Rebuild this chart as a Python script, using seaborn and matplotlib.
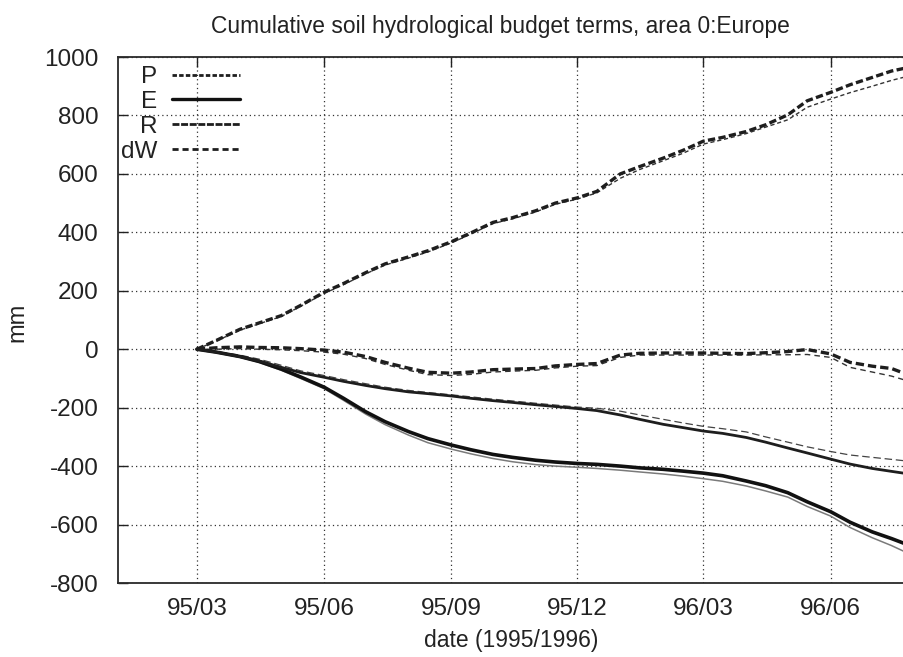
import numpy as np
import pandas as pd
import matplotlib
matplotlib.use("Agg")
import matplotlib.pyplot as plt
import matplotlib.dates as mdates
from matplotlib.lines import Line2D
import seaborn as sns

# ---------------- data ----------------
dates = ["1995-03-01", "1995-03-15", "1995-04-01", "1995-04-15", "1995-05-01", "1995-05-15",
         "1995-06-01", "1995-06-15", "1995-07-01", "1995-07-15", "1995-08-01", "1995-08-15",
         "1995-09-01", "1995-09-15", "1995-10-01", "1995-10-15", "1995-11-01", "1995-11-15",
         "1995-12-01", "1995-12-15", "1996-01-01", "1996-01-15", "1996-02-01", "1996-02-15",
         "1996-03-01", "1996-03-15", "1996-04-01", "1996-04-15", "1996-05-01", "1996-05-15",
         "1996-06-01", "1996-06-15", "1996-07-01", "1996-07-15", "1996-07-25"]

P_main = [0, 30, 68, 90, 115, 150, 195, 225, 262, 292, 316, 337, 368, 398, 434, 450, 474, 500,
          518, 540, 600, 625, 654, 680, 712, 725, 745, 768, 802, 850, 879, 905, 930, 952, 962]
P_alt = [0, 28, 65, 87, 112, 147, 191, 221, 258, 288, 312, 333, 364, 394, 430, 446, 470, 496,
         514, 535, 585, 615, 645, 670, 702, 717, 738, 760, 785, 828, 856, 878, 900, 920, 932]
E_main = [0, -10, -25, -42, -68, -95, -130, -168, -214, -248, -282, -306, -328, -344, -360, -370,
          -380, -386, -391, -394, -400, -406, -411, -417, -424, -433, -451, -467, -491, -522,
          -556, -592, -625, -648, -666]
E_alt = [0, -11, -27, -45, -72, -100, -135, -175, -222, -258, -294, -320, -342, -358, -374, -385,
         -395, -400, -404, -408, -414, -420, -427, -434, -443, -452, -468, -485, -506, -538,
         -571, -610, -645, -672, -694]
R_main = [0, -10, -25, -40, -62, -80, -96, -110, -124, -135, -146, -152, -160, -168, -176, -182,
          -190, -196, -203, -210, -225, -240, -257, -268, -280, -288, -302, -318, -338, -355,
          -376, -393, -408, -418, -425]
R_alt = [0, -8, -20, -34, -55, -74, -90, -104, -118, -130, -141, -148, -156, -163, -171, -177,
         -185, -191, -198, -202, -212, -225, -240, -252, -264, -272, -283, -300, -318, -334,
         -350, -362, -370, -377, -382]
dW_main = [0, 5, 8, 6, 5, 2, -3, -10, -25, -45, -65, -79, -82, -78, -70, -68, -66, -57, -52, -49,
           -20, -14, -13, -13, -13, -14, -15, -12, -8, -1, -16, -45, -58, -66, -84]
dW_alt = [0, 0, 2, 0, -2, -5, -10, -17, -32, -52, -72, -87, -90, -86, -78, -75, -72, -64, -58,
          -56, -28, -20, -20, -20, -20, -20, -20, -19, -19, -18, -28, -62, -78, -92, -106]

legend_labels = ["P", "E", "R", "dW"]
y_ticks = [-800, -600, -400, -200, 0, 200, 400, 600, 800, 1000]
x_ticks = ["1995-03-01", "1995-06-01", "1995-09-01", "1995-12-01", "1996-03-01", "1996-06-01"]

# ---------------- figure ----------------
sns.set_theme(style="white")
plt.rcParams["font.family"] = ["Liberation Sans", "DejaVu Sans"]

W, H = 904, 657
fig = plt.figure(figsize=(W / 100, H / 100), dpi=100)
ax = fig.add_axes([118 / W, 1 - 583 / H, (904 - 118) / W, (583 - 57) / H])

x = pd.to_datetime(dates)
dark = "#1e1e1e"

# alt (thin) versions first
sns.lineplot(x=x, y=P_alt, ax=ax, color="#333333", lw=1.0, linestyle=(0, (3, 2)))
sns.lineplot(x=x, y=E_alt, ax=ax, color="#7a7a7a", lw=1.1, linestyle="-")
sns.lineplot(x=x, y=R_alt, ax=ax, color="#444444", lw=0.9, linestyle=(0, (6, 3)))
sns.lineplot(x=x, y=dW_alt, ax=ax, color="#333333", lw=1.0, linestyle=(0, (4, 3)))
# main versions
sns.lineplot(x=x, y=P_main, ax=ax, color=dark, lw=2.4, linestyle=(0, (2.2, 1.0)))
sns.lineplot(x=x, y=E_main, ax=ax, color="#111111", lw=2.6, linestyle="-")
sns.lineplot(x=x, y=R_main, ax=ax, color=dark, lw=2.0, linestyle="-")
sns.lineplot(x=x, y=dW_main, ax=ax, color=dark, lw=2.4, linestyle=(0, (2.5, 1.2)))

ax.set_xlim(pd.Timestamp("1995-01-03"), pd.Timestamp("1996-07-24"))
ax.set_ylim(-800, 1000)
ax.set_yticks(y_ticks)
ax.set_yticklabels([str(v) for v in y_ticks])
ax.set_xticks(pd.to_datetime(x_ticks))
ax.xaxis.set_major_formatter(mdates.DateFormatter("%y/%m"))

ax.grid(True, which="major", color="#333333", linestyle=(0, (1, 2.5)), linewidth=0.9)
ax.tick_params(axis="both", direction="in", length=7, width=1.0, color="#222222",
               labelsize=17.5, labelcolor="#222222", pad=14)
ax.tick_params(axis="x", top=True, pad=11)
ax.tick_params(axis="y", left=True, right=False)
for s in ["left", "bottom", "top"]:
    ax.spines[s].set_color("#2a2a2a")
    ax.spines[s].set_linewidth(1.3)
ax.spines["right"].set_visible(False)

ax.set_xlabel("date (1995/1996)", fontsize=16.5, color="#222222", labelpad=6)
fig.text(17 / W, 1 - 322 / H, "mm", rotation=90, ha="center", va="center",
         fontsize=17, color="#222222")
fig.text(500 / W, 1 - 27 / H, "Cumulative soil hydrological budget terms, area 0:Europe",
         ha="center", va="center", fontsize=16.4, color="#222222")

handles = [
    Line2D([], [], color=dark, lw=2.0, linestyle=(0, (1.6, 0.8))),
    Line2D([], [], color="#111111", lw=2.4, linestyle="-"),
    Line2D([], [], color=dark, lw=2.0, linestyle=(0, (2.5, 0.6))),
    Line2D([], [], color=dark, lw=2.0, linestyle=(0, (2.2, 1.4))),
]
leg = ax.legend(handles, legend_labels, loc="upper left", bbox_to_anchor=(121 / W, 1 - 66 / H),
                bbox_transform=fig.transFigure, frameon=False, markerfirst=False,
                fontsize=17.5, handlelength=2.8, handletextpad=0.6, labelspacing=0.12,
                borderpad=0, borderaxespad=0)
for t in leg.get_texts():
    t.set_color("#222222")

fig.savefig("out.png", dpi=100)
